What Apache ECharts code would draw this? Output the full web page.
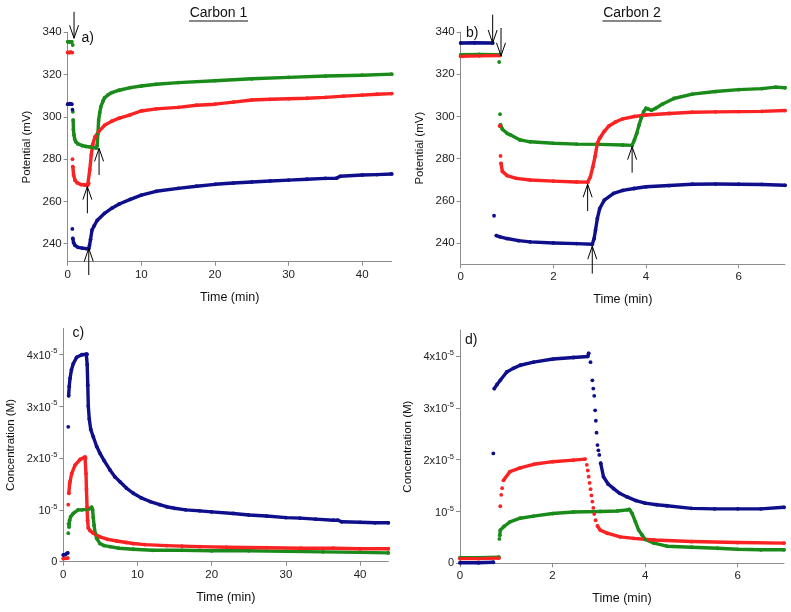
<!DOCTYPE html>
<html>
<head>
<meta charset="utf-8">
<script src="https://cdn.jsdelivr.net/npm/echarts@6/dist/echarts.min.js"></script>
<style>
html,body{margin:0;padding:0;background:#fff;}
#chart{width:791px;height:612px;}
</style>
</head>
<body>
<div id="chart"></div>
<script>
// ---------- DATA (time in min, potential in mV, concentration in units of 1e-5 M) ----------
// null = gap between separately plotted points
const aGreen = [[0,335.5],[0.2,335.6],[0.4,335.4],[0.55,335.5],null,[0.68,334],null,[0.7,302.4],null,
  [0.74,298.5],[0.78,294],[0.85,291.5],[0.95,289.5],[1.1,288.2],[1.4,287.2],[2,286.4],[2.5,286],[3,285.8],[3.5,285.5],[3.9,285.3],
  [4.0,286.5],[4.1,292],[4.2,298.5],[4.35,302],[4.5,304.8],[4.8,307.5],[5,309],[5.5,310.5],[6,311.5],[7,312.6],[8.5,313.8],
  [10,314.6],[12,315.4],[15,316.2],[20,317.1],[25,318],[30,318.7],[35,319.3],[40,319.7],[44,320.2]];
const aRed = [[0,330.5],[0.2,330.3],[0.4,330.6],[0.6,330.4],null,[0.65,280],null,
  [0.7,276.4],[0.8,272.5],[1.0,270],[1.3,268.8],[1.8,268],[2.3,267.8],[2.7,267.6],[2.85,268.5],[3.0,275],[3.2,282],[3.4,287],
  [3.7,290.5],[4.2,293],[5,296],[6,298],[7,299.4],[8.5,301],[10,302.8],[12,303.8],[15,304.5],[17.5,305.5],[20,306],[22.5,307],
  [25,308],[27.5,308.3],[30,308.6],[32.5,308.8],[35,309.2],[37.5,309.8],[40,310.3],[42,310.7],[44,311]];
const aBlue = [[0,306],[0.3,306.2],[0.55,306],null,[0.65,303.4],null,[0.63,247],null,
  [0.7,242.5],[0.8,240.5],[1.0,239.2],[1.4,238.3],[2,237.9],[2.5,237.7],[2.85,237.6],[2.95,239],[3.1,242],[3.3,246.5],[3.6,248.5],
  [4,251],[5,254.4],[6,256.8],[7,258.8],[8.5,261],[10,263],[12,264.8],[15,266.2],[17.5,267.2],[20,268.1],[22.5,268.7],[25,269.2],
  [27.5,269.7],[30,270.1],[32.5,270.5],[35,270.9],[36.5,271],[37,271.9],[40,272.5],[42,272.7],[44,273]];
// arrows: [time, tip value, tail value]
const aArrows = [[0.86,337.2,349.7],[2.86,237.8,225.2],[2.67,267,254.4],[4.26,285.1,272.5]];

const bGreen = [[0,329.2],[0.4,329.4],[0.83,329.3],null,[0.83,325.8],null,[0.85,301.1],null,
  [0.86,296],[0.9,294],[1.0,292],[1.07,291.3],[1.28,288.9],[1.5,288],[2,287.3],[2.5,286.9],[3,286.8],[3.5,286.5],[3.7,286.3],
  [3.75,288.9],[3.8,292],[3.85,296],[3.9,299.5],[3.95,302.3],[4.0,303.9],[4.05,303.5],[4.12,302.9],[4.2,303.8],[4.35,305.8],
  [4.6,308.5],[5,310.6],[5.5,311.8],[6,312.7],[6.5,313.2],[6.8,313.9],[7,313.6]];
const bRed = [[0,328.5],[0.4,328.7],[0.85,328.9],null,[0.84,295.5],null,[0.86,281.3],null,
  [0.87,277.8],[0.9,274],[1,272],[1.2,270.7],[1.5,269.9],[2,269.4],[2.5,269],[2.74,268.9],[2.8,271.5],[2.85,276],[2.9,281],
  [2.95,287.3],[3.0,289.7],[3.1,293],[3.2,295.5],[3.35,297.5],[3.5,298.9],[3.75,300],[4,300.7],[4.5,301.4],[5,302],[5.5,302.2],
  [6,302.3],[6.5,302.4],[7,302.8]];
const bBlue = [[0,334.8],[0.3,334.9],[0.69,334.8],null,[0.72,253],null,
  [0.77,243.6],[0.85,243],[1.0,242.2],[1.25,241.2],[1.5,240.6],[2,240.1],[2.5,239.8],[2.84,239.5],[2.88,242.2],[2.91,246.2],
  [2.95,251.7],[3.0,256.4],[3.1,260.4],[3.3,263.6],[3.5,265],[3.74,265.9],[4,266.7],[4.5,267.3],[5,267.9],[5.5,268],[6,267.9],
  [6.5,267.8],[7,267.4]];
const bArrows = [[0.69,334.8,348.2],[0.87,328.7,341.9],[2.74,267.9,255.2],[2.84,238.6,225.6],[3.7,285.7,273.4]];

const cGreen = [[0.67,0.55],null,[0.7,0.73],null,
  [0.77,0.67],[0.85,0.8],[1.0,0.87],[1.35,0.93],[2.0,1.0],[2.5,1.0],[3.1,1.01],[3.5,1.02],[3.82,1.05],[3.95,1.0],[4.04,0.85],
  [4.15,0.7],[4.3,0.55],[4.5,0.45],[4.94,0.35],[5.5,0.31],[6.29,0.29],[7.5,0.26],[9.43,0.24],[12,0.22],[16,0.22],[20,0.21],
  [25,0.21],[30,0.2],[35,0.19],[40,0.18],[43.8,0.17]];
const cRed = [[0,0.06],[0.3,0.065],[0.6,0.07],null,[0.67,1.1],null,
  [0.75,1.32],[0.85,1.5],[0.9,1.54],[1.13,1.7],[1.58,1.86],[2.25,1.97],[2.92,2.02],[3.0,2.0],[3.06,1.7],[3.12,1.4],[3.2,1.05],
  [3.27,0.8],[3.37,0.65],[3.6,0.6],[4.04,0.55],[4.94,0.48],[6,0.43],[7.19,0.4],[8.5,0.37],[9.43,0.35],[11,0.33],[13.9,0.31],
  [16,0.3],[18.4,0.29],[22,0.28],[27.4,0.27],[32,0.26],[36.4,0.26],[40,0.25],[43.8,0.25]];
const cBlue = [[0,0.13],[0.3,0.14],[0.6,0.17],null,[0.67,2.6],null,
  [0.72,3.2],[0.8,3.38],[0.9,3.53],[1.1,3.7],[1.35,3.82],[1.8,3.94],[2.5,3.99],[3.1,4.0],[3.2,4.0],[3.22,3.8],[3.3,3.4],
  [3.37,3.0],[3.5,2.75],[3.7,2.55],[4.04,2.41],[4.5,2.22],[4.94,2.09],[5.5,1.95],[6.29,1.77],[7,1.63],[7.64,1.54],[8.5,1.42],
  [9.43,1.32],[10.5,1.23],[11.7,1.16],[13,1.1],[13.9,1.06],[15,1.03],[16.5,1.0],[18.4,0.98],[20,0.96],[22.9,0.93],[25,0.9],
  [27.4,0.88],[30,0.85],[31.9,0.84],[34,0.82],[36.4,0.8],[37,0.8],[37.5,0.77],[40,0.76],[42,0.75],[43.8,0.75]];

const dGreen = [[0,0.11],[0.4,0.11],[0.84,0.12],null,[0.85,0.47],null,
  [0.86,0.54],[0.87,0.64],[0.95,0.71],[1.08,0.8],[1.3,0.87],[1.59,0.91],[2.0,0.96],[2.45,0.99],[3.03,1.0],[3.4,1.01],[3.61,1.03],
  [3.66,1.04],[3.72,0.96],[3.79,0.8],[3.86,0.64],[3.93,0.55],[4.0,0.46],[4.19,0.39],[4.47,0.33],[5.0,0.31],[5.56,0.29],
  [6.0,0.27],[6.5,0.26],[7.0,0.26]];
const dRed = [[0,0.09],[0.4,0.09],[0.84,0.1],null,[0.87,1.1],null,[0.89,1.32],null,[0.91,1.45],null,
  [0.94,1.6],[1.08,1.77],[1.3,1.84],[1.59,1.91],[2.0,1.96],[2.45,1.99],[2.7,2.01],null,[2.74,1.9],null,[2.76,1.79],null,
  [2.78,1.67],null,[2.8,1.55],null,[2.82,1.43],null,[2.84,1.31],null,[2.86,1.19],null,[2.88,1.07],null,[2.9,0.95],null,
  [2.93,0.83],null,[2.97,0.72],[3.03,0.64],[3.18,0.58],[3.46,0.51],[3.75,0.48],[4.19,0.45],[5.0,0.42],[6.0,0.4],[7.0,0.39]];
const dBlue = [[0,0.01],[0.4,0.01],[0.72,0.02],null,[0.72,2.12],null,
  [0.74,3.37],[0.8,3.45],[0.87,3.53],[1.01,3.69],[1.15,3.76],[1.3,3.82],[1.59,3.88],[2.01,3.94],[2.45,3.97],[2.76,3.99],
  [2.78,4.05],null,[2.82,3.88],null,[2.86,3.53],null,[2.88,3.37],null,[2.9,3.23],null,[2.92,2.95],null,[2.935,2.75],null,
  [2.95,2.52],null,[2.97,2.28],null,[2.99,2.18],null,[3.01,2.09],null,
  [3.04,1.93],[3.1,1.67],[3.2,1.53],[3.32,1.44],[3.45,1.35],[3.61,1.28],[3.8,1.21],[4.0,1.16],[4.25,1.13],[4.47,1.11],
  [5.0,1.06],[5.5,1.05],[6.0,1.05],[6.5,1.05],[7.0,1.08]];

// tick labels
const potTicks = [240,260,280,300,320,340];
const concTicks = [0,1,2,3,4];
const timeTicksLong = [0,10,20,30,40];
const timeTicksShort = [0,2,4,6];

// ---------- STYLE ----------
const GREEN = '#1a8b1a', RED = '#fa2222', BLUE = '#0f0f8c';
const FONT = '"Liberation Sans", Arial, sans-serif';
const AX = '#8c8c8c';

function xAxis(gi, max, ticks) {
  return {
    type: 'value', gridIndex: gi, min: 0, max: max,
    name: 'Time (min)', nameLocation: 'middle', nameGap: 29,
    nameTextStyle: {fontFamily: FONT, fontSize: 12.5, color: '#111'},
    axisLine: {show: true, onZero: false, lineStyle: {color: AX, width: 1}},
    axisTick: {show: true, inside: false, length: 4, lineStyle: {color: AX}, customValues: ticks},
    axisLabel: {fontFamily: FONT, fontSize: 11.5, color: '#222', margin: 7, customValues: ticks},
    splitLine: {show: false}
  };
}
function yAxisPot(gi, min) {
  return {
    type: 'value', gridIndex: gi, min: min, max: 340,
    name: 'Potential (mV)', nameLocation: 'middle', nameGap: 35,
    nameTextStyle: {fontFamily: FONT, fontSize: 11.5, color: '#111'},
    axisLine: {show: true, onZero: false, lineStyle: {color: AX, width: 1}},
    axisTick: {show: true, length: 4, lineStyle: {color: AX}, customValues: potTicks},
    axisLabel: {fontFamily: FONT, fontSize: 11.5, color: '#222', margin: 6, customValues: potTicks},
    splitLine: {show: false}
  };
}
function yAxisConc(gi) {
  return {
    type: 'value', gridIndex: gi, min: 0, max: 4.5,
    name: 'Concentration (M)', nameLocation: 'middle', nameGap: 46,
    nameTextStyle: {fontFamily: FONT, fontSize: 11.5, color: '#111'},
    axisLine: {show: true, onZero: false, lineStyle: {color: AX, width: 1}},
    axisTick: {show: true, length: 4, lineStyle: {color: AX}, customValues: concTicks},
    axisLabel: {
      fontFamily: FONT, fontSize: 11, color: '#222', margin: 6, customValues: concTicks,
      formatter: function (v) {
        if (v === 0) return '{b|0}';
        if (v === 1) return '{b|10}{s|-5}';
        return '{b|' + v + 'x10}{s|-5}';
      },
      rich: {
        b: {fontFamily: FONT, fontSize: 11, color: '#222', verticalAlign: 'bottom'},
        s: {fontFamily: FONT, fontSize: 7.5, color: '#222', verticalAlign: 'top', padding: [0, 0, 6, 0]}
      }
    },
    splitLine: {show: false}
  };
}

function lineSeries(data, color, idx) {
  return {
    type: 'line', xAxisIndex: idx, yAxisIndex: idx,
    data: data.map(p => p === null ? ['-', '-'] : p),
    symbol: 'circle', symbolSize: 3.8, showSymbol: true, showAllSymbol: true,
    connectNulls: false, clip: false,
    lineStyle: {width: 3.4, color: color, join: 'round', cap: 'round'},
    itemStyle: {color: color, borderWidth: 0},
    emphasis: {disabled: true}, silent: true, animation: false
  };
}

function arrowSeries(data, idx) {
  return {
    type: 'custom', xAxisIndex: idx, yAxisIndex: idx, clip: false, silent: true, animation: false, z: 10,
    data: data,
    renderItem: function (params, api) {
      const tip = api.coord([api.value(0), api.value(1)]);
      const tail = api.coord([api.value(0), api.value(2)]);
      const dir = tip[1] > tail[1] ? 1 : -1;
      const L = 13, W = 4.5;
      return {
        type: 'group',
        children: [
          {type: 'line', shape: {x1: tail[0], y1: tail[1], x2: tip[0], y2: tip[1]},
           style: {stroke: '#000', lineWidth: 1}},
          {type: 'polyline', shape: {points: [[tip[0] - W, tip[1] - dir * L], [tip[0], tip[1]], [tip[0] + W, tip[1] - dir * L]]},
           style: {stroke: '#000', fill: null, lineWidth: 1}}
        ]
      };
    }
  };
}

function titleGraphic(text, cx, y, w) {
  return {
    type: 'group', children: [
      {type: 'text', x: cx, y: y, style: {text: text, font: '14px ' + FONT, fill: '#111', textAlign: 'center', textVerticalAlign: 'middle'}},
      {type: 'line', shape: {x1: cx - w / 2, y1: y + 7.5, x2: cx + w / 2, y2: y + 7.5}, style: {stroke: '#111', lineWidth: 1}}
    ]
  };
}
function panelLabel(text, x, y) {
  return {type: 'text', x: x, y: y, style: {text: text, font: '14px ' + FONT, fill: '#111', textAlign: 'left', textVerticalAlign: 'middle'}};
}

const chart = echarts.init(document.getElementById('chart'), null, {renderer: 'canvas'});
chart.setOption({
  backgroundColor: '#fff',
  animation: false,
  grid: [
    {left: 67.7, right: 399.3, top: 32.3, bottom: 350.3},
    {left: 460.7, right: 6, top: 32, bottom: 347.7},
    {left: 63.3, right: 402.7, top: 328.3, bottom: 50.3},
    {left: 460, right: 7, top: 330, bottom: 48.7}
  ],
  xAxis: [xAxis(0, 44, timeTicksLong), xAxis(1, 7, timeTicksShort), xAxis(2, 43.8, timeTicksLong), xAxis(3, 7, timeTicksShort)],
  yAxis: [yAxisPot(0, 231.5), yAxisPot(1, 230), yAxisConc(2), yAxisConc(3)],
  series: [
    lineSeries(aGreen, GREEN, 0), lineSeries(aRed, RED, 0), lineSeries(aBlue, BLUE, 0), arrowSeries(aArrows, 0),
    lineSeries(bGreen, GREEN, 1), lineSeries(bRed, RED, 1), lineSeries(bBlue, BLUE, 1), arrowSeries(bArrows, 1),
    lineSeries(cGreen, GREEN, 2), lineSeries(cRed, RED, 2), lineSeries(cBlue, BLUE, 2),
    lineSeries(dGreen, GREEN, 3), lineSeries(dRed, RED, 3), lineSeries(dBlue, BLUE, 3)
  ],
  graphic: [
    titleGraphic('Carbon 1', 218.5, 13.5, 59),
    titleGraphic('Carbon 2', 632, 13.5, 59),
    panelLabel('a)', 81.5, 38.5),
    panelLabel('b)', 466, 33.5),
    panelLabel('c)', 72.5, 333.5),
    panelLabel('d)', 465, 340)
  ]
});
</script>
</body>
</html>
